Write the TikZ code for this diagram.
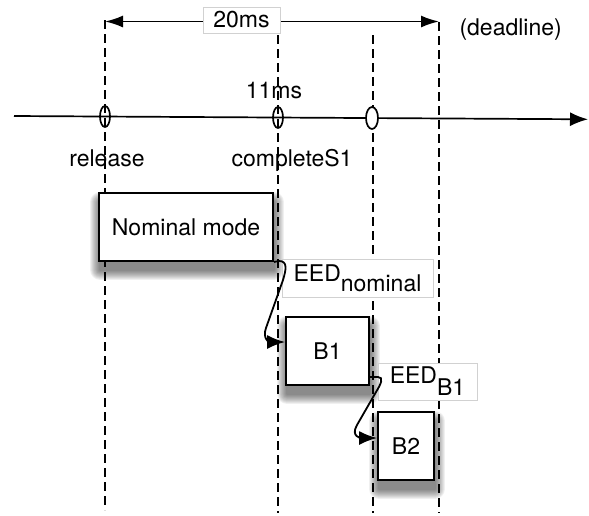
\documentclass[tikz,border=0pt]{standalone}
\usepackage{fontspec}
\setmainfont{TeX Gyre Heros}
\usetikzlibrary{arrows.meta,shapes.geometric}
\begin{document}
\begin{tikzpicture}[x=1pt,y=-1pt,
  every node/.style={font=\fontsize{23}{27}\selectfont},
  dashline/.style={line width=1.7pt, dash pattern=on 9pt off 5pt},
  modebox/.style={draw, line width=1.9pt, fill=white, inner sep=0pt, minimum height=68pt},
  lbl/.style={draw=black!18, line width=0.7pt, fill=white, inner sep=0pt},
  ev/.style={draw, ellipse, line width=1.7pt, minimum width=10pt, minimum height=21pt, inner sep=0pt},
  conn/.style={line width=1.8pt, -{Latex[length=18pt,width=14pt]}},
  dim/.style={line width=1.7pt, {Latex[length=18pt,width=12pt]}-{Latex[length=18pt,width=12pt]}},
  shade/.style={fill=black, opacity=0.06},
]
\useasboundingbox (0,0) rectangle (589,515);
% event coordinates
\coordinate (d1t) at (105,20);  \coordinate (d1b) at (105,510);
\coordinate (d2t) at (278,35);  \coordinate (d2b) at (278,513);
\coordinate (d3t) at (373,35);  \coordinate (d3b) at (373,513);
\coordinate (d4t) at (439,22);  \coordinate (d4b) at (439,513);
\draw[dashline] (d1t) -- (d1b);
\draw[dashline] (d2t) -- (d2b);
\draw[dashline] (d3t) -- (d3b);
\draw[dashline] (d4t) -- (d4b);
% timeline
\coordinate (tl0) at (14,116);
\coordinate (tl1) at (588,119.3);
\draw[line width=1.7pt, -{Latex[length=18pt,width=14pt]}] (tl0) -- (tl1);
\node[ev] (e1) at (105,116.5) {};
\node[ev] (e2) at (278,117.5) {};
\node[ev, fill=white, minimum width=12pt, minimum height=22pt] (e3) at (372,118) {};
\node[anchor=base] (rel) at (107,166) {release};
\node[anchor=base] (cs1) at (292,166) {completeS1};
\node[anchor=base] (t11) at (274,98) {11ms};
\node[anchor=base west] (dl) at (456,35) {(deadline)};
% 20ms dimension
\coordinate (a0) at (105,21.5);
\coordinate (a1) at (439,21.5);
\draw[dim] (a0) -- (a1);
\node[lbl, minimum width=77pt, minimum height=26pt] (l20) at (241.5,20) {20ms};
% mode box frames (for shadows)
\path (186,227) node[modebox, minimum width=174pt, draw=none, fill=none] (nom) {\phantom{Nominal mode}};
\path (327.5,351) node[modebox, minimum width=83pt, draw=none, fill=none] (b1) {\phantom{B1}};
\path (406,446) node[modebox, minimum width=56pt, draw=none, fill=none] (b2) {\phantom{B2}};
\foreach \n in {nom,b1,b2}{
  \foreach \r in {0,1,...,9}{
    \fill[shade, rounded corners={(\r+1)*1pt}]
      ([xshift={(1-\r)*1pt}, yshift={(-9-\r)*1pt}]\n.south west) rectangle
      ([xshift={(1+\r)*1pt}, yshift={(-9+\r)*1pt}]\n.north east);
  }
}
\node[modebox, minimum width=174pt] (nomb) at (nom) {Nominal mode};
\node[modebox, minimum width=83pt] (b1b) at (b1) {B1};
\node[modebox, minimum width=56pt] (b2b) at (b2) {B2};
% EED labels
\node[lbl, minimum width=151pt, minimum height=38pt] (eedn) at (357.5,278) {EED\raisebox{-10pt}{nominal}};
\node[lbl, minimum width=99pt, minimum height=37pt] (eedb) at (427.5,381.5) {EED\raisebox{-12pt}{B1}};
% connectors
\draw[conn] (nomb.south east) -- (279,261) .. controls (288,261) and (286,270) .. (283,280)
  -- (266,328) .. controls (262,339) and (270,342) .. ([yshift=9pt]b1b.west);
\draw[conn] ([yshift=-26pt]b1b.east) -- (378,377) .. controls (384,377) and (381,384) .. (376,392)
  -- (357,425) .. controls (350,437) and (362,438) .. ([yshift=8pt]b2b.west);
\end{tikzpicture}
\end{document}
